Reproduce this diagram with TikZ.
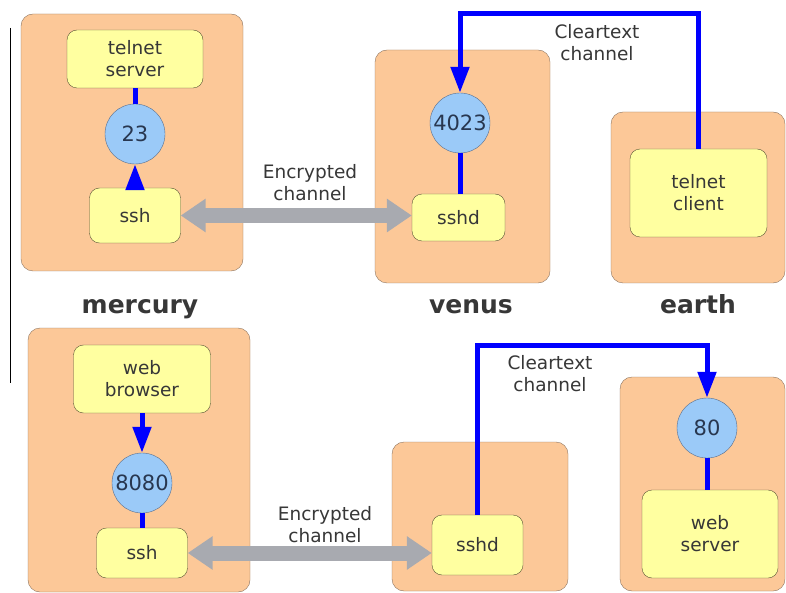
\documentclass[tikz,border=0pt]{standalone}
\usepackage{fontspec}
\setmainfont{DejaVu Sans}
\usepackage{tikz}
\usetikzlibrary{arrows.meta,positioning}
\definecolor{hostfill}{RGB}{252,200,152}
\definecolor{hostline}{RGB}{140,115,95}
\definecolor{procfill}{RGB}{255,255,160}
\definecolor{procline}{RGB}{90,85,55}
\definecolor{portfill}{RGB}{155,202,248}
\definecolor{portline}{RGB}{90,110,140}
\definecolor{porttext}{RGB}{40,55,80}
\definecolor{tunnelgray}{RGB}{168,170,176}
\definecolor{textgray}{RGB}{55,55,55}
\tikzset{
    host/.style={
        draw=hostline,thin,rounded corners=12pt,
        fill=hostfill
    },
    proc/.style={
        draw=procline,thin,rounded corners=10pt,
        fill=procfill,text=textgray,
        align=center,inner sep=0pt,
        font=\fontsize{18.5}{22}\selectfont
    },
    port/.style={
        circle,draw=portline,thin,
        fill=portfill,text=porttext,
        minimum size=60pt,inner sep=0pt,
        font=\fontsize{21}{24}\selectfont
    },
    hostname/.style={
        anchor=base,text=textgray,
        font=\fontsize{25}{28}\selectfont\bfseries
    },
    chanlabel/.style={
        text=textgray,align=center,inner sep=0pt,
        font=\fontsize{18.5}{22}\selectfont
    },
    link/.style={blue,line width=5pt},
    tunnel/.style={tunnelgray,line width=15pt},
    >={Triangle[length=26pt,width=18pt]}
}

\begin{document}
\begin{tikzpicture}[x=1pt,y=-1pt]
\useasboundingbox (0,0) rectangle (786,593);
\draw[black,thin] (10,28) -- (10,383);
\foreach \name/\x/\y/\w/\h in {mercury_a/132/142.5/222/257,venus_a/462.5/166.5/175/233,earth_a/698/197.5/174/171,
    mercury_b/139/460/222/264,venus_b/480/516.5/176/149,earth_b/702.5/484/165/214}
    \node[host,minimum width=\w pt,minimum height=\h pt] (\name) at (\x,\y) {};
\foreach \name/\x in {mercury/140,venus/471,earth/698}
    \node[hostname] (name_\name) at (\x,313) {\name};
\foreach \name/\x/\y/\w/\h/\txt in {tserver/135/59/136/58/telnet\\server,ssh_a/135/215.5/91/55/ssh,
    sshd_a/458.5/217.5/93/47/sshd,tclient/698.5/193/137/88/telnet\\client,
    browser/142/379/137/68/web\\browser,ssh_b/142/553/91/50/ssh,
    sshd_b/477.5/545/91/60/sshd,wserver/710/534/136/88/web\\server}
    \node[proc,minimum width=\w pt,minimum height=\h pt] (\name) at (\x,\y) {\txt};
\foreach \num/\x/\y in {23/135/134,4023/460/123,8080/142/483,80/707/428}
    \node[port] (port_\num) at (\x,\y) {\num};
\draw[tunnel,{Triangle[length=25pt,width=32pt]}-{Triangle[length=25pt,width=32pt]}] (ssh_a.east) -- (ssh_a.east -| sshd_a.west);
\draw[tunnel,{Triangle[length=25pt,width=32pt]}-{Triangle[length=25pt,width=32pt]}] (ssh_b.east) -- (ssh_b.east -| sshd_b.west);
\node[chanlabel] (enc_a) at (310,183) {Encrypted\\channel};
\node[chanlabel] (enc_b) at (325,525) {Encrypted\\channel};
\node[chanlabel] (clear_a) at (597,43) {Cleartext\\channel};
\node[chanlabel] (clear_b) at (550,374) {Cleartext\\channel};
\draw[link,->] (ssh_a) -- (port_23);
\draw[link] (port_23) -- (tserver);
\draw[link] (port_4023.south) -- (port_4023.south |- sshd_a.north);
\coordinate (bend_a) at (698.5,14);
\draw[link,->] (tclient.north) -- (bend_a) -| (port_4023.north);
\draw[link,->] (browser) -- (port_8080);
\draw[link] (port_8080) -- (ssh_b);
\coordinate (bend_b) at (477.5,345);
\draw[link,->] (sshd_b.north) -- (bend_b) -| (port_80.north);
\draw[link] (port_80) -- (port_80 |- wserver.north);
\end{tikzpicture}
\end{document}
